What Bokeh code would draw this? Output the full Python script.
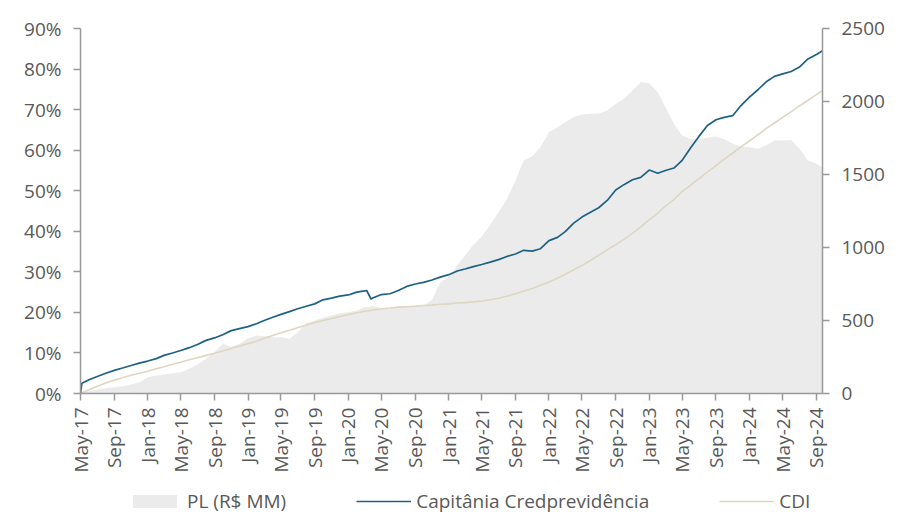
import pandas as pd
from bokeh.plotting import figure
from bokeh.layouts import column
from bokeh.models import (Range1d, LinearAxis, FixedTicker, DatetimeTickFormatter,
                          PrintfTickFormatter, Legend, LegendItem, ColumnDataSource)
from bokeh.embed import file_html
from bokeh.resources import INLINE

# ---------------- data ----------------
month_starts = pd.date_range("2017-05-01", "2024-09-01", freq="MS")
end_date = pd.Timestamp("2024-09-23")
dates = list(month_starts) + [end_date]

# PL (R$ MM), right axis
pl = [0, 16, 27, 36, 43, 50, 62, 77, 112, 123, 130, 139, 146, 169, 199, 238, 283, 340, 320, 340,
      379, 397, 392, 386, 385, 375, 420, 482, 500, 518, 534, 550, 557, 568, 591, 598, 582, 580, 591, 596,
      603, 603, 640, 760, 800, 877, 945, 1018, 1075, 1155, 1242, 1333, 1459, 1596, 1625, 1687, 1790, 1824, 1858, 1893,
      1911, 1916, 1918, 1938, 1984, 2018, 2075, 2132, 2125, 2064, 1961, 1847, 1767, 1744, 1744, 1751, 1760, 1744, 1710, 1692,
      1687, 1676, 1699, 1733, 1733, 1737, 1676, 1596, 1573, 1550]

# Capitânia Credprevidência (% accumulated), left axis
capitania = [0, 3.4, 4.2, 5.0, 5.7, 6.3, 6.9, 7.5, 8.0, 8.6, 9.4, 10.0, 10.6, 11.3, 12.1, 13.1, 13.7, 14.5, 15.5, 16.0,
             16.5, 17.2, 18.0, 18.8, 19.5, 20.2, 20.9, 21.5, 22.1, 23.1, 23.5, 24.0, 24.3, 25.0, 25.3, 23.6, 24.4, 24.6, 25.4, 26.4,
             27.0, 27.4, 28.0, 28.7, 29.3, 30.2, 30.7, 31.3, 31.8, 32.4, 33.0, 33.8, 34.4, 35.3, 35.1, 35.7, 37.7, 38.5, 39.9, 42.0,
             43.5, 44.7, 45.8, 47.6, 50.2, 51.5, 52.7, 53.3, 55.1, 54.3, 55.0, 55.6, 57.5, 60.6, 63.4, 66.1, 67.5, 68.1, 68.5, 71.0,
             73.1, 74.9, 76.8, 78.2, 78.8, 79.4, 80.5, 82.5, 83.6, 84.5]
cap_extra_dates = ["2017-05-06", "2020-03-08", "2020-03-24"]
cap_extra_vals = [2.5, 25.4, 23.3]

# CDI (% accumulated), left axis
cdi = [0, 0.9, 1.8, 2.6, 3.3, 3.9, 4.5, 5.0, 5.5, 6.1, 6.6, 7.2, 7.7, 8.3, 8.8, 9.4, 9.9, 10.5, 11.1, 11.7,
       12.3, 12.9, 13.6, 14.3, 15.0, 15.6, 16.2, 16.9, 17.5, 18.0, 18.5, 19.0, 19.5, 19.9, 20.3, 20.6, 20.9, 21.1, 21.3, 21.4,
       21.5, 21.7, 21.8, 22.0, 22.1, 22.3, 22.4, 22.6, 22.8, 23.1, 23.5, 24.0, 24.6, 25.3, 25.9, 26.7, 27.5, 28.4, 29.4, 30.5,
       31.6, 32.8, 34.1, 35.4, 36.7, 38.0, 39.5, 41.1, 42.8, 44.5, 46.2, 47.8, 49.8, 51.4, 53.0, 54.6, 56.2, 57.8, 59.3, 60.8,
       62.3, 63.8, 65.3, 66.7, 68.1, 69.5, 70.9, 72.3, 73.7, 74.7]

tick_dates = pd.date_range("2017-05-01", "2024-09-01", freq="4MS")
left_ticks = [0, 10, 20, 30, 40, 50, 60, 70, 80, 90]
right_ticks = [0, 500, 1000, 1500, 2000, 2500]

# ---------------- build ----------------
cap_df = pd.DataFrame({"d": dates + [pd.Timestamp(s) for s in cap_extra_dates],
                       "v": capitania + cap_extra_vals}).sort_values("d")

src = ColumnDataSource(dict(d=dates, pl=pl, cdi=cdi))
cap_src = ColumnDataSource(dict(d=list(cap_df["d"]), v=list(cap_df["v"])))

FONT = "Open Sans"
FS = "19px"
TXT = "#595959"
AX = "#999999"
C_PL = "#ebebeb"
C_CAP = "#1d6184"
C_CDI = "#ddd7c0"

xr = Range1d(pd.Timestamp("2017-05-01"), end_date)
p = figure(width=900, height=486, x_axis_type="datetime", output_backend="svg",
           toolbar_location=None, x_range=xr, y_range=Range1d(0, 90),
           min_border_left=80, min_border_right=78, min_border_top=28, min_border_bottom=93)
p.extra_y_ranges = {"right": Range1d(0, 2500)}
p.outline_line_color = None
p.xgrid.visible = False
p.ygrid.visible = False

p.varea(x="d", y1=0, y2="pl", source=src, y_range_name="right", fill_color=C_PL)
p.line(x="d", y="cdi", source=src, line_color=C_CDI, line_width=1.6)
p.line(x="d", y="v", source=cap_src, line_color=C_CAP, line_width=1.7)

raxis = LinearAxis(y_range_name="right")
p.add_layout(raxis, "right")

for ax in [p.xaxis[0], p.yaxis[0], raxis]:
    ax.axis_line_color = AX
    ax.axis_line_width = 1.5
    ax.major_tick_line_color = AX
    ax.major_tick_line_width = 1.5
    ax.major_tick_out = 7
    ax.major_tick_in = 0
    ax.minor_tick_line_color = None
    ax.major_label_text_font = FONT
    ax.major_label_text_font_size = FS
    ax.major_label_text_color = TXT

p.xaxis[0].ticker = FixedTicker(ticks=[t.value // 10**6 for t in tick_dates])
p.xaxis[0].formatter = DatetimeTickFormatter(days="%b-%y", months="%b-%y", years="%b-%y")
p.xaxis[0].major_label_orientation = 1.5707963
p.xaxis[0].major_label_standoff = 7

p.yaxis[0].ticker = FixedTicker(ticks=left_ticks)
p.yaxis[0].formatter = PrintfTickFormatter(format="%d%%")
p.yaxis[0].major_label_standoff = 12
raxis.ticker = FixedTicker(ticks=right_ticks)
raxis.major_label_standoff = 12

# legend strip below the chart: same series drawn against an off-screen y range,
# so only their legend entries show
lf = figure(width=900, height=28, x_axis_type="datetime", output_backend="svg",
            toolbar_location=None, x_range=xr, y_range=Range1d(-2, -1), min_border=0,
            x_axis_location=None, y_axis_location=None)
lf.outline_line_color = None
lf.xgrid.visible = False
lf.ygrid.visible = False
r_pl = lf.varea(x="d", y1=0, y2="pl", source=src, fill_color=C_PL)
r_cap = lf.line(x="d", y="v", source=cap_src, line_color=C_CAP, line_width=1.7)
r_cdi = lf.line(x="d", y="cdi", source=src, line_color=C_CDI, line_width=1.6)
legend = Legend(items=[LegendItem(label="PL (R$ MM)", renderers=[r_pl]),
                       LegendItem(label="Capitânia Credprevidência", renderers=[r_cap]),
                       LegendItem(label="CDI", renderers=[r_cdi])],
                orientation="horizontal", location=(47, 0),
                label_text_font=FONT, label_text_font_size=FS, label_text_color=TXT,
                glyph_width=55, glyph_height=16, spacing=70, label_standoff=5,
                padding=0, margin=0, border_line_alpha=0, background_fill_alpha=0)
lf.add_layout(legend, "center")

layout = column(p, lf, spacing=0)
open("out.html", "w").write(file_html(layout, INLINE))
